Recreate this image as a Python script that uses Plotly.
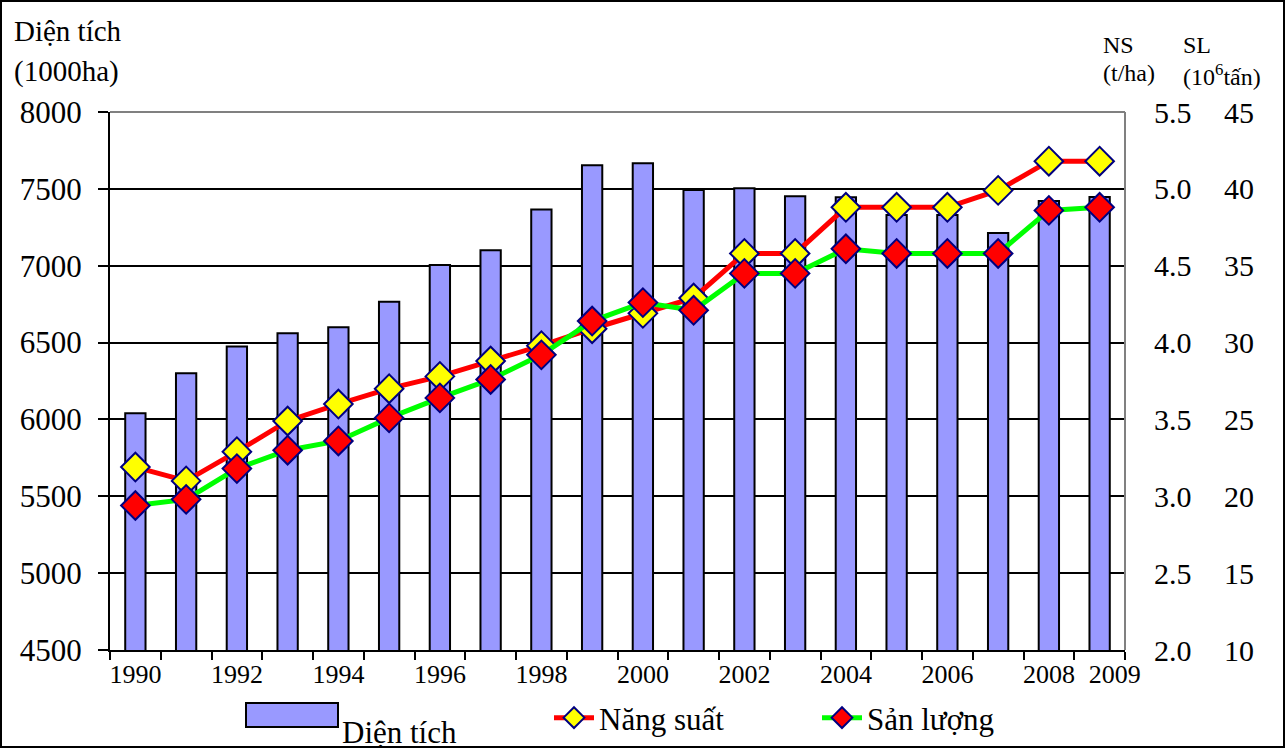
import plotly.graph_objects as go

years = list(range(1990, 2010))
dien_tich = [6040, 6300, 6475, 6560, 6600, 6765, 7004, 7100, 7365, 7654,
             7666, 7492, 7504, 7452, 7445, 7330, 7330, 7213, 7421, 7447]
nang_suat = [3.19, 3.10, 3.29, 3.49, 3.60, 3.70, 3.78, 3.88, 3.98, 4.09,
             4.19, 4.29, 4.58, 4.58, 4.88, 4.88, 4.88, 4.99, 5.18, 5.18]
san_luong = [19.4, 19.8, 21.8, 23.0, 23.6, 25.1, 26.4, 27.6, 29.2, 31.4,
             32.6, 32.1, 34.5, 34.5, 36.1, 35.8, 35.8, 35.8, 38.6, 38.8]
x_tick_labels = [1990, 1992, 1994, 1996, 1998, 2000, 2002, 2004, 2006, 2008, 2009]

FONT = "Liberation Serif"
BAR_COLOR = "#9999FF"
W, H = 1286, 749
L, R, T, B = 110, 40, 112, 99
PW, PH = W - L - R, H - T - B


def fx(X):
    return (X - L) / PW


def fy(Y):
    return (H - B - Y) / PH


# last label nudged right (as in the original, to avoid touching 2008)
tick_pos = x_tick_labels[:-1] + [x_tick_labels[-1] + 0.3]

fig = go.Figure()
fig.add_trace(go.Bar(
    x=years, y=dien_tich, name="Diện tích", width=0.4, showlegend=False,
    marker=dict(color=BAR_COLOR, line=dict(color="black", width=2)),
    yaxis="y",
))
fig.add_trace(go.Scatter(
    x=years, y=nang_suat, name="Năng suất", mode="lines+markers",
    line=dict(color="#FF0000", width=5),
    marker=dict(symbol="diamond", size=22, color="#FFFF00",
                line=dict(color="#000080", width=2)),
    yaxis="y2",
))
fig.add_trace(go.Scatter(
    x=years, y=san_luong, name="Sản lượng", mode="lines+markers",
    line=dict(color="#00FF00", width=5),
    marker=dict(symbol="diamond", size=22, color="#FF0000",
                line=dict(color="#000080", width=2)),
    yaxis="y3",
))

fig.update_layout(
    width=W, height=H,
    margin=dict(l=L, r=R, t=T, b=B, autoexpand=False),
    paper_bgcolor="white", plot_bgcolor="white",
    font=dict(family=FONT, color="black"),
    showlegend=True,
    legend=dict(orientation="h", x=fx(549), y=fy(691), xanchor="left", yanchor="top",
                font=dict(size=31, family=FONT), itemwidth=40, entrywidth=213,
                bgcolor="rgba(0,0,0,0)"),
    xaxis=dict(
        domain=[0, 1015 / PW],
        range=[1989.5, 2009.5],
        tickmode="array", tickvals=tick_pos,
        ticktext=[str(v) for v in x_tick_labels],
        tickangle=0,
        ticks="", showgrid=False, zeroline=False,
        showline=True, linecolor="black", linewidth=2,
        tickfont=dict(size=26, family=FONT),
        minor=dict(tickvals=[1989.5 + i for i in range(21)], ticks="outside",
                   ticklen=8, tickwidth=2, tickcolor="black", showgrid=False),
    ),
    yaxis=dict(
        range=[4500, 8000], dtick=500, tick0=4500,
        showgrid=True, gridcolor="black", gridwidth=2,
        showline=True, linecolor="black", linewidth=2,
        ticks="outside", ticklen=10, tickwidth=2, tickcolor="black",
        ticklabelstandoff=10,
        zeroline=False, tickfont=dict(size=31, family=FONT),
    ),
    yaxis2=dict(
        range=[2.0, 5.5], dtick=0.5, tick0=2.0, tickformat=".1f",
        overlaying="y", side="right", anchor="x",
        showgrid=False, zeroline=False, showline=False,
        ticks="outside", ticklen=22, tickcolor="rgba(0,0,0,0)",
        tickfont=dict(size=30, family=FONT),
    ),
    yaxis3=dict(
        range=[10, 45], dtick=5, tick0=10,
        overlaying="y", side="right", anchor="free", position=fx(1195),
        showgrid=False, zeroline=False, showline=False,
        ticks="outside", ticklen=22, tickcolor="rgba(0,0,0,0)",
        tickfont=dict(size=30, family=FONT),
    ),
)

# plot area border (top and right, gray) and outer frame
fig.add_shape(type="line", xref="x domain", yref="y domain", x0=0, x1=1, y0=1, y1=1,
              line=dict(color="#808080", width=2))
fig.add_shape(type="line", xref="x domain", yref="y domain", x0=1, x1=1, y0=0, y1=1,
              line=dict(color="#808080", width=2))
fig.add_shape(type="rect", xref="paper", yref="paper",
              x0=fx(1), x1=fx(W - 2), y0=fy(H - 2), y1=fy(1),
              line=dict(color="black", width=2), fillcolor="rgba(0,0,0,0)")

# legend key for the bar series (large swatch as in the original)
fig.add_shape(type="rect", xref="paper", yref="paper",
              x0=fx(246), x1=fx(338), y0=fy(727), y1=fy(703),
              line=dict(color="black", width=2), fillcolor=BAR_COLOR)

annos = [
    dict(text="Diện tích", x=fx(12), y=fy(13), size=29, anchor="top"),
    dict(text="(1000ha)", x=fx(12), y=fy(53), size=29, anchor="top"),
    dict(text="NS", x=fx(1101), y=fy(30), size=24, anchor="top"),
    dict(text="(t/ha)", x=fx(1101), y=fy(58), size=24, anchor="top"),
    dict(text="SL", x=fx(1181), y=fy(30), size=24, anchor="top"),
    dict(text="(10<sup>6</sup>tấn)", x=fx(1181), y=fy(58), size=24, anchor="top"),
    dict(text="Diện tích", x=fx(340), y=fy(732), size=31, anchor="middle"),
]
for a in annos:
    fig.add_annotation(text=a["text"], x=a["x"], y=a["y"], xref="paper", yref="paper",
                       xanchor="left", yanchor=a["anchor"], showarrow=False,
                       font=dict(size=a["size"], family=FONT, color="black"))

fig.write_html("out.html", config={"displayModeBar": False},
               post_script="document.body.style.margin='0';document.body.style.overflow='hidden';")
